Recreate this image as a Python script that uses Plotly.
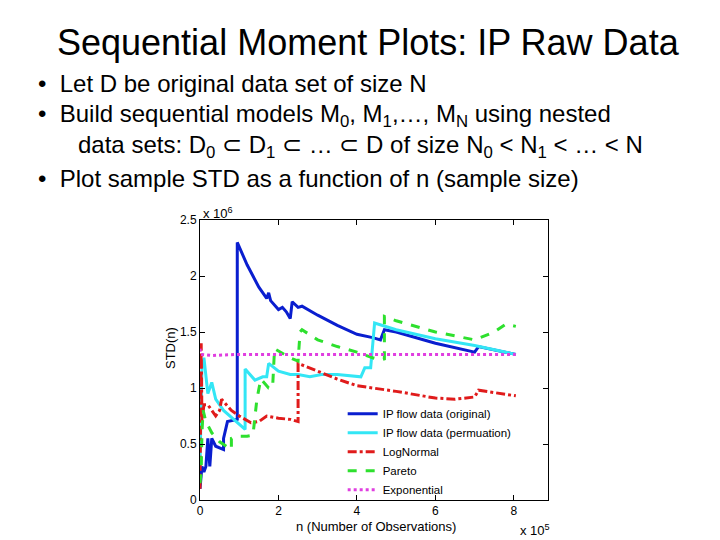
import plotly.graph_objects as go

# n in units of 1e5, STD in units of 1e6
blue_x = [0,0.05,0.1,0.15,0.2,0.25,0.3,0.4,0.6,0.6,0.7,0.9,0.95,0.95,1.2,1.5,1.7,1.75,1.8,2.0,2.1,2.2,2.3,2.35,2.5,2.6,3,3.5,4,4.4,4.6,4.7,5,6,7,7.1,8.05]
blue_y = [0.1,0.3,0.25,0.3,0.55,0.3,0.55,0.48,0.45,0.55,0.7,0.72,0.72,2.3,2.1,1.9,1.8,1.85,1.78,1.7,1.72,1.68,1.62,1.77,1.72,1.73,1.65,1.56,1.48,1.45,1.43,1.52,1.5,1.4,1.32,1.37,1.3]
cyan_x = [0,0.05,0.1,0.15,0.2,0.3,0.4,0.6,1.15,1.15,1.4,1.6,1.7,1.75,2.0,2.3,2.5,2.8,3.1,3.5,4.1,4.2,4.35,4.45,5,6,7,8.05]
cyan_y = [0.3,1.2,1.27,1.1,0.95,1.05,0.9,0.8,0.63,1.17,1.07,1.1,1.1,1.22,1.15,1.12,1.12,1.1,1.12,1.12,1.1,1.18,1.18,1.58,1.52,1.44,1.38,1.3]
red_x = [0,0.03,0.05,0.1,0.2,0.3,0.4,0.5,0.55,0.8,1.0,1.3,1.5,1.7,2.0,2.3,2.5,2.5,3,3.5,4,5,6,6.5,7,7.1,8.05]
red_y = [0.1,1.4,0.7,0.85,0.85,0.8,0.75,0.8,0.9,0.8,0.75,0.69,0.7,0.75,0.73,0.72,0.7,1.22,1.15,1.08,1.02,0.97,0.91,0.9,0.92,0.98,0.93]
green_x = [0,0.03,0.05,0.08,0.15,0.3,0.5,0.8,0.8,1.0,1.2,1.35,1.45,1.55,1.75,1.85,1.9,2.3,2.5,2.55,2.6,3,3.5,4,4.4,4.6,4.7,4.7,5,6,7,7.5,7.8,8.05]
green_y = [0.15,0.25,0.6,0.8,0.7,0.6,0.52,0.45,0.55,0.57,0.57,0.58,0.9,1.08,1.0,1.0,1.35,1.27,1.24,1.5,1.52,1.43,1.37,1.32,1.27,1.25,1.26,1.64,1.6,1.5,1.43,1.5,1.57,1.55]
mag_x = [0,0.02,0.3,1,8.05]
mag_y = [1.35,1.3,1.29,1.3,1.3]

x_ticks = [0,2,4,6,8]
y_ticks = [0,0.5,1,1.5,2,2.5]

F = "Liberation Sans, Arial"
fig = go.Figure()
series = [
    ("IP flow data (original)", blue_x, blue_y, "#0a1ecf", "solid"),
    ("IP flow data (permuation)", cyan_x, cyan_y, "#33e6f5", "solid"),
    ("LogNormal", red_x, red_y, "#e01b1b", "dashdot"),
    ("Pareto", green_x, green_y, "#2ee02e", "dash"),
    ("Exponential", mag_x, mag_y, "#e03ee0", "dot"),
]
for name, xs, ys, c, d in series:
    fig.add_trace(go.Scatter(x=xs, y=ys, name=name, mode="lines",
                             line=dict(color=c, width=3, dash=d)))

ax = dict(showgrid=False, zeroline=False, showline=True, linecolor="black",
          mirror="ticks", ticks="inside", ticklen=5, tickcolor="black",
          tickfont=dict(family=F, size=12, color="black"))
fig.update_layout(
    width=720, height=540, paper_bgcolor="white", plot_bgcolor="white",
    margin=dict(l=192, r=180, t=212, b=48),
    xaxis=dict(range=[0, 8.87], tickvals=x_ticks, ticktext=[str(v) for v in x_ticks], **ax),
    yaxis=dict(range=[0, 2.5], tickvals=y_ticks, ticktext=["0","0.5","1","1.5","2","2.5"], **ax),
    legend=dict(x=0.41, y=0.36, xanchor="left", yanchor="top", bgcolor="rgba(255,255,255,0)",
                font=dict(family=F, size=11.5, color="black"),
                tracegroupgap=0, itemwidth=30),
    showlegend=True,
)

def ptext(x, y, t, size, anchor="left", angle=0):
    fig.add_annotation(xref="paper", yref="paper", x=(x-192)/348, y=(540-48-y)/280,
                       xanchor=anchor, yanchor="middle", text=t, showarrow=False,
                       textangle=angle, font=dict(family=F, size=size, color="black"))
ptext(360, 34, "Sequential Moment Plots: IP Raw Data", 36, "center")
ptext(28, 75, "•  Let D be original data set of size N", 24)
ptext(28, 107, "•  Build sequential models M<sub>0</sub>, M<sub>1</sub>,…, M<sub>N</sub> using nested", 24)
ptext(68, 138, "data sets: D<sub>0</sub> ⊂ D<sub>1</sub> ⊂ … ⊂ D of size N<sub>0</sub> < N<sub>1</sub> < … < N", 24)
ptext(28, 170, "•  Plot sample STD as a function of n (sample size)", 24)
ptext(368, 518, "n (Number of Observations)", 13, "center")
ptext(162, 340, "STD(n)", 13, "center", -90)
ptext(193, 205, "x 10<sup>6</sup>", 13)
ptext(510, 522, "x 10<sup>5</sup>", 13)

fig.write_html("out.html")
